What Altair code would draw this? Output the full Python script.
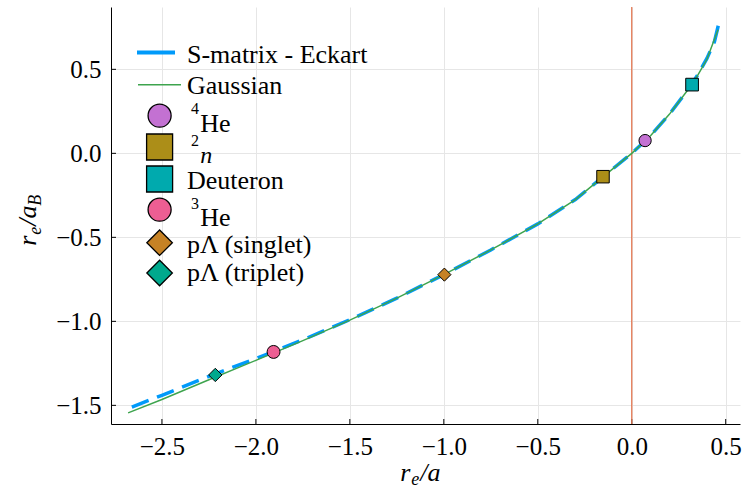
import altair as alt
import pandas as pd

# ---------------- data ----------------
eck_x = [-2.66, -2.5, -2.25, -2.0, -1.75, -1.5, -1.25, -1.0, -0.75, -0.5, -0.3, -0.15,
         0.0, 0.1, 0.2, 0.3, 0.35, 0.4, 0.44, 0.47]
eck_y = [-1.51, -1.44, -1.327, -1.222, -1.11, -0.99, -0.862, -0.722, -0.575, -0.42, -0.275, -0.137,
         0.0, 0.105, 0.232, 0.38, 0.465, 0.565, 0.665, 0.805]
gau_x = [-2.68, -2.5, -2.25, -2.0, -1.75, -1.5, -1.25, -1.0, -0.75, -0.5, -0.3, -0.15,
         0.0, 0.1, 0.2, 0.3, 0.35, 0.4, 0.459]
gau_y = [-1.545, -1.465, -1.348, -1.232, -1.115, -0.993, -0.862, -0.722, -0.575, -0.42, -0.275, -0.137,
         0.0, 0.105, 0.232, 0.38, 0.462, 0.56, 0.736]
pt_names = ["4He", "2n", "Deuteron", "3He", "pΛ (singlet)", "pΛ (triplet)"]
pt_x = [0.071, -0.153, 0.321, -1.906, -0.997, -2.216]
pt_y = [0.076, -0.139, 0.409, -1.182, -0.722, -1.319]
vline_x = [0.0]
x_ticks = [-2.5, -2.0, -1.5, -1.0, -0.5, 0.0, 0.5]
y_ticks = [-1.5, -1.0, -0.5, 0.0, 0.5]

# ---------------- style ----------------
pt_colors = ["#C371D2", "#AC8E18", "#00AAAE", "#ED5E93", "#C68225", "#00A98D"]
pt_shapes = ["circle", "square", "square", "circle", "diamond", "diamond"]
pt_sizes = [150, 178, 178, 150, 178, 178]
leg_sizes = [530, 676, 676, 530, 650, 650]

W, H = 629, 417
FONT = "Liberation Serif"
XD = [-2.771, 0.576]
YD = [-1.611, 0.871]

xs = alt.Scale(domain=XD, nice=False, zero=False)
ys = alt.Scale(domain=YD, nice=False, zero=False)
xaxis = alt.Axis(values=x_ticks, format=".1f", title=None, labelFont=FONT, labelFontSize=25,
                 labelColor="black", tickSize=0, labelPadding=10, domainColor="black",
                 domainWidth=1, gridColor="#e6e6e6", gridWidth=1, labelFlush=False)
yaxis = alt.Axis(values=y_ticks, format=".1f", title=None, labelFont=FONT, labelFontSize=25,
                 labelColor="black", tickSize=0, labelPadding=10, domainColor="black",
                 domainWidth=1, gridColor="#e6e6e6", gridWidth=1, labelFlush=False)


def X():
    return alt.X("x:Q", scale=xs, axis=xaxis)


def Y():
    return alt.Y("y:Q", scale=ys, axis=yaxis)


eck_df = pd.DataFrame({"x": eck_x, "y": eck_y})
gau_df = pd.DataFrame({"x": gau_x, "y": gau_y})
pt_df = pd.DataFrame({"name": pt_names, "x": pt_x, "y": pt_y})

layers = []

# inward ticks
layers.append(alt.Chart(pd.DataFrame({"x": x_ticks})).mark_rule(color="black", strokeWidth=1)
              .encode(x=X(), y=alt.value(H), y2=alt.value(H - 5)))
layers.append(alt.Chart(pd.DataFrame({"y": y_ticks})).mark_rule(color="black", strokeWidth=1)
              .encode(y=Y(), x=alt.value(0), x2=alt.value(5)))

# S-matrix Eckart (dashed)
layers.append(alt.Chart(eck_df).mark_line(color="#009AFA", strokeWidth=3.5, strokeDash=[18, 9])
              .encode(x=X(), y=Y(), order="x:Q"))
# vertical line at 0
layers.append(alt.Chart(pd.DataFrame({"x": vline_x})).mark_rule(color="#E36F47", strokeWidth=1.2)
              .encode(x=X(), y=alt.value(0), y2=alt.value(H)))
# Gaussian
layers.append(alt.Chart(gau_df).mark_line(color="#3EA44E", strokeWidth=1.5)
              .encode(x=X(), y=Y(), order="x:Q"))
# points
layers.append(alt.Chart(pt_df).mark_point(filled=True, opacity=1, stroke="black", strokeWidth=1)
              .encode(x=X(), y=Y(),
                      shape=alt.Shape("name:N", scale=alt.Scale(domain=pt_names, range=pt_shapes), legend=None),
                      fill=alt.Fill("name:N", scale=alt.Scale(domain=pt_names, range=pt_colors), legend=None),
                      size=alt.Size("name:N", scale=alt.Scale(domain=pt_names, range=pt_sizes), legend=None)))

one = pd.DataFrame({"a": [0]})

# ---------------- legend ----------------
layers.append(alt.Chart(one).mark_rule(color="#009AFA", strokeWidth=4)
              .encode(x=alt.value(26), x2=alt.value(64), y=alt.value(45.4)))
layers.append(alt.Chart(one).mark_rule(color="#3EA44E", strokeWidth=1.5)
              .encode(x=alt.value(27), x2=alt.value(70), y=alt.value(77.7)))
leg_y = [108.7, 140, 172, 202.7, 235.7, 266]
for i in range(len(pt_names)):
    layers.append(alt.Chart(one).mark_point(filled=True, opacity=1, stroke="black", strokeWidth=1.3,
                                            shape=pt_shapes[i], size=leg_sizes[i], fill=pt_colors[i])
                  .encode(x=alt.value(48.6), y=alt.value(leg_y[i])))


def txt(s, x, y, size=26, italic=False, angle=0, baseline="middle"):
    kw = dict(text=s, font=FONT, fontSize=size, color="black", align="left", baseline=baseline)
    if italic:
        kw["fontStyle"] = "italic"
    if angle:
        kw["angle"] = angle
    return alt.Chart(one).mark_text(**kw).encode(x=alt.value(x), y=alt.value(y))


layers += [
    txt("S-matrix - Eckart", 76, 47.7),
    txt("Gaussian", 76, 78.7),
    txt("4", 80, 102.2, size=16),
    txt("He", 89.3, 116.7),
    txt("2", 80, 134.4, size=16),
    txt("n", 89.3, 149.4, size=24, italic=True),
    txt("Deuteron", 76, 174.4),
    txt("3", 80, 197, size=16),
    txt("He", 89.3, 211),
    txt("pΛ (singlet)", 76, 237.7),
    txt("pΛ (triplet)", 76, 265.7),
]

# ---------------- axis titles ----------------
bx = 424 - 110.7 - 24
layers += [
    txt("r", bx, 473.7, size=26, italic=True, baseline="alphabetic"),
    txt("e", bx + 11, 478.2, size=18, italic=True, baseline="alphabetic"),
    txt("/a", bx + 20, 473.7, size=26, italic=True, baseline="alphabetic"),
]
by = 216 - 7.3 + 30
xb = 36 - 110.7
layers += [
    txt("r", xb, by, size=26, italic=True, angle=270, baseline="alphabetic"),
    txt("e", xb + 5, by - 11, size=18, italic=True, angle=270, baseline="alphabetic"),
    txt("/a", xb, by - 20, size=26, italic=True, angle=270, baseline="alphabetic"),
    txt("B", xb + 5, by - 40, size=18, italic=True, angle=270, baseline="alphabetic"),
]

chart = alt.layer(*layers).properties(
    width=W, height=H,
    padding={"left": 111, "top": 7, "right": 4, "bottom": 64},
    autosize=alt.AutoSizeParams(type="none"),
    background="white",
).configure_view(stroke=None)

chart.save("out.html", embed_options={"renderer": "svg", "actions": False})
